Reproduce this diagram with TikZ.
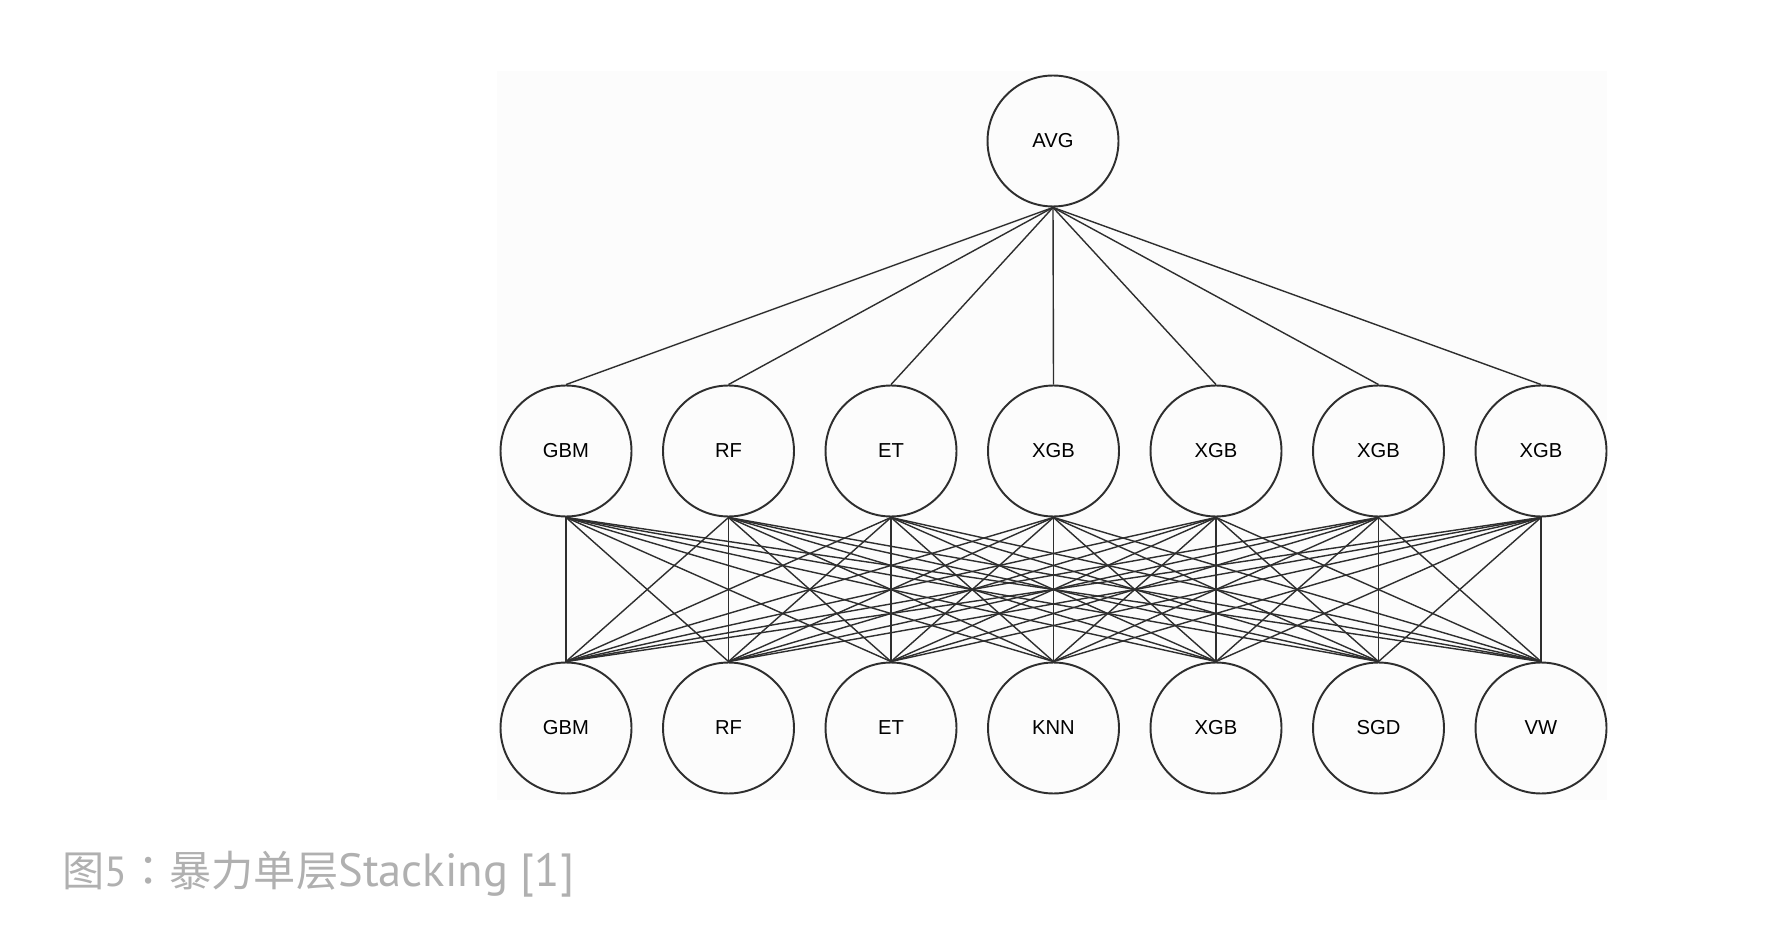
\documentclass[tikz,border=0pt]{standalone}
\usepackage{fontspec}
\setmainfont{Liberation Sans}
\newfontfamily\cjk{Noto Sans CJK SC}
\newfontfamily\cjktc{Noto Sans CJK TC}
\newfontfamily\latcap{PT Sans}
\usepackage{xcolor}
\usepackage{tikz}
\usetikzlibrary{positioning}

\definecolor{capgray}{HTML}{B0B0B0}
\definecolor{edgegray}{HTML}{2E2E2E}

\begin{document}
\begin{tikzpicture}[x=0.02cm,y=-0.02cm,
    model/.style={circle,draw=edgegray,line width=1.1pt,minimum size=2.62cm,inner sep=0pt,font=\fontsize{11.5}{13}\selectfont},
    link/.style={edgegray,line width=0.8pt}]
  \useasboundingbox (0,0) rectangle (1782,942);
  \fill[black!1] (497,71) rectangle (1607,800);
  % top: averaging node
  \node[model] (avg) at (1053,141) {AVG};
  % second layer
  \foreach \lbl [count=\i] in {GBM,RF,ET,XGB,XGB,XGB,XGB}
    \node[model] (m\i) at ({566+162.5*(\i-1)},451) {\lbl};
  % first layer
  \foreach \lbl [count=\i] in {GBM,RF,ET,KNN,XGB,SGD,VW}
    \node[model] (b\i) at ({566+162.5*(\i-1)},728) {\lbl};
  \foreach \i in {1,...,7}
    \draw[link] (avg.south) -- (m\i.north);
  \foreach \i in {1,...,7}
    \foreach \j in {1,...,7}
      \draw[link] (m\i.south) -- (b\j.north);
  \node[anchor=west,text=capgray,inner sep=0pt,font=\cjk\fontsize{24}{28}\selectfont] (caption) at (62,874)
    {图{\latcap 5}{\cjktc ：}暴力单层{\latcap\fontsize{26.5}{28}\selectfont Stacking [1]}};
\end{tikzpicture}
\end{document}
